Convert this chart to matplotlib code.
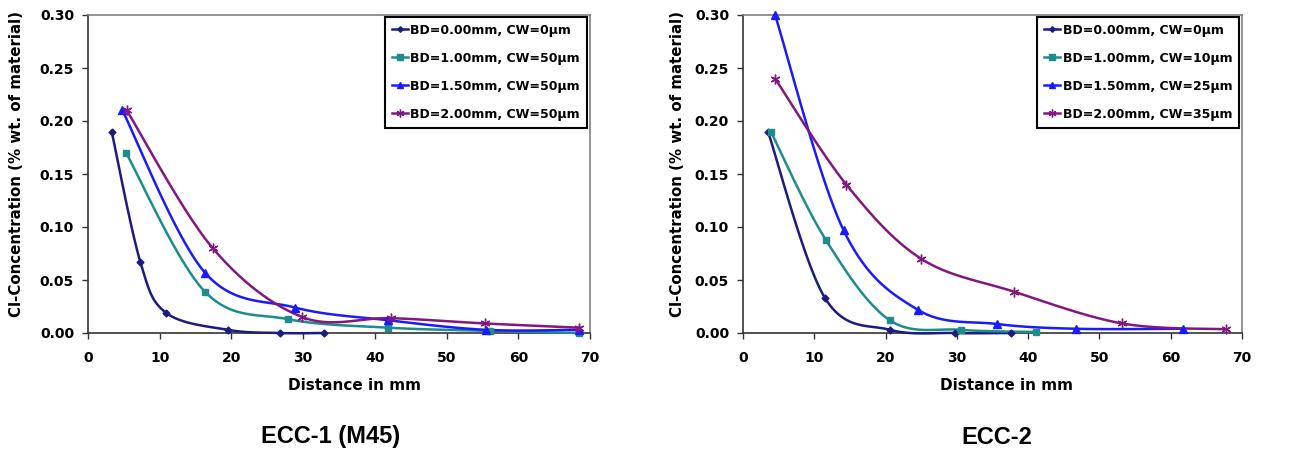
import numpy as np
import matplotlib
matplotlib.use('Agg')
import matplotlib.pyplot as plt
from matplotlib.lines import Line2D

plt.rcParams['font.family'] = ['DejaVu Sans']
plt.rcParams['font.weight'] = 'bold'

# ECC-1 (M45) data
ecc1_labels = ['BD=0.00mm, CW=0\u00b5m', 'BD=1.00mm, CW=50\u00b5m',
               'BD=1.50mm, CW=50\u00b5m', 'BD=2.00mm, CW=50\u00b5m']
ecc1_x = [
    [3.3, 7.3, 10.9, 19.5, 26.8, 32.9],
    [5.3, 16.3, 27.9, 41.9, 56.0, 68.5],
    [4.8, 16.3, 28.9, 41.9, 55.5, 68.5],
    [5.4, 17.4, 29.9, 42.3, 55.4, 68.5],
]
ecc1_y = [
    [0.190, 0.067, 0.019, 0.003, 0.000, 0.000],
    [0.170, 0.039, 0.013, 0.005, 0.002, 0.000],
    [0.210, 0.057, 0.024, 0.012, 0.003, 0.003],
    [0.210, 0.080, 0.015, 0.014, 0.009, 0.005],
]

# ECC-2 data
ecc2_labels = ['BD=0.00mm, CW=0\u00b5m', 'BD=1.00mm, CW=10\u00b5m',
               'BD=1.50mm, CW=25\u00b5m', 'BD=2.00mm, CW=35\u00b5m']
ecc2_x = [
    [3.5, 11.5, 20.6, 29.7, 37.6],
    [3.9, 11.6, 20.6, 30.6, 41.1],
    [4.5, 14.1, 24.5, 35.6, 46.7, 61.7],
    [4.5, 14.5, 25.0, 38.0, 53.2, 67.7],
]
ecc2_y = [
    [0.190, 0.033, 0.003, 0.000, 0.000],
    [0.190, 0.088, 0.012, 0.003, 0.001],
    [0.300, 0.097, 0.022, 0.0085, 0.004, 0.004],
    [0.240, 0.140, 0.070, 0.039, 0.009, 0.0035],
]

colors = ['#1c1c80', '#1f8c8c', '#1a1aff', '#82187f']
markers = ['D', 's', '^', (6, 2, 0)]
msizes = [3.5, 5, 5.5, 7]


def smooth(x, y, n=24):
    # excel-like smoothed line (bezier through points)
    p = np.column_stack([x, y]).astype(float)
    out = [p[0]]
    t = np.linspace(0, 1, n)[1:, None]
    for i in range(len(p) - 1):
        p0 = p[i - 1] if i > 0 else p[i]
        p1, p2 = p[i], p[i + 1]
        p3 = p[i + 2] if i + 2 < len(p) else p[i + 1]
        c1 = p1 + (p2 - p0) / 6
        c2 = p2 - (p3 - p1) / 6
        seg = ((1 - t) ** 3) * p1 + 3 * ((1 - t) ** 2) * t * c1 + 3 * (1 - t) * t ** 2 * c2 + t ** 3 * p2
        out.extend(seg)
    out = np.array(out)
    return out[:, 0], out[:, 1]


def draw(ax, xs, ys, labels):
    handles = []
    for i in range(4):
        sx, sy = smooth(xs[i], ys[i])
        ax.plot(sx, sy, color=colors[i], lw=1.8, clip_on=False, zorder=3)
        ax.plot(xs[i], ys[i], ls='none', marker=markers[i], ms=msizes[i],
                color=colors[i], mec=colors[i], mew=1.0, clip_on=False, zorder=4)
        handles.append(Line2D([], [], color=colors[i], lw=1.8, marker=markers[i],
                              ms=msizes[i] * 0.8, mew=1.0))
    ax.set_xlim(0, 70)
    ax.set_ylim(0, 0.30)
    ax.set_xticks(np.arange(0, 71, 10))
    ax.set_yticks(np.arange(0, 0.301, 0.05))
    ax.yaxis.set_major_formatter(matplotlib.ticker.FormatStrFormatter('%.2f'))
    for s in ax.spines.values():
        s.set_color('#808080')
        s.set_linewidth(1.2)
    ax.spines['left'].set_color('#333333')
    ax.spines['bottom'].set_color('#333333')
    ax.tick_params(axis='both', direction='out', length=4.5, width=1,
                   color='#333333', labelsize=10)
    ax.tick_params(axis='x', pad=8.5)
    ax.tick_params(axis='y', pad=5.5)
    leg = ax.legend(handles, labels, loc='upper right', bbox_to_anchor=(0.994, 0.994),
                    borderaxespad=0, fancybox=False, framealpha=1, edgecolor='black',
                    prop={'size': 9, 'weight': 'bold'}, labelspacing=1.2,
                    borderpad=0.55, handlelength=1.3, handletextpad=0.2)
    leg.get_frame().set_linewidth(1.5)


fig = plt.figure(figsize=(13, 4.5), dpi=100)
ax1 = fig.add_axes([88 / 1300, 1 - 333 / 450, 502 / 1300, 318 / 450])
ax2 = fig.add_axes([743 / 1300, 1 - 333 / 450, 499 / 1300, 318 / 450])

draw(ax1, ecc1_x, ecc1_y, ecc1_labels)
draw(ax2, ecc2_x, ecc2_y, ecc2_labels)

ylab = 'Cl-Concentration (% wt. of material)'
fig.text(17 / 1300, 1 - 164 / 450, ylab, rotation=90, ha='center', va='center', fontsize=10.8)
fig.text(677 / 1300, 1 - 164 / 450, ylab, rotation=90, ha='center', va='center', fontsize=10.8)
fig.text(354 / 1300, 1 - 385 / 450, 'Distance in mm', ha='center', va='center', fontsize=11)
fig.text(1006 / 1300, 1 - 385 / 450, 'Distance in mm', ha='center', va='center', fontsize=11)
fig.text(331 / 1300, 1 - 437 / 450, 'ECC-1 (M45)', ha='center', va='center', fontsize=17,
         family='Liberation Sans')
fig.text(997 / 1300, 1 - 437 / 450, 'ECC-2', ha='center', va='center', fontsize=17,
         family='Liberation Sans')

fig.savefig('out.png', dpi=100)
